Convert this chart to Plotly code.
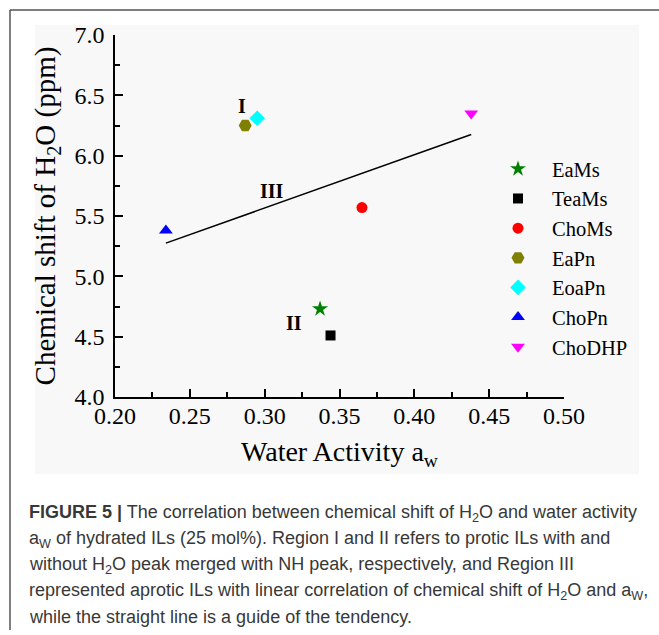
import plotly.graph_objects as go

# ---------------- data ----------------
names = ["EaMs", "TeaMs", "ChoMs", "EaPn", "EoaPn", "ChoPn", "ChoDHP"]
water_activity = [0.337, 0.344, 0.365, 0.287, 0.295, 0.234, 0.438]
chem_shift = [4.73, 4.51, 5.57, 6.25, 6.31, 5.38, 6.35]
symbols = ["star", "square", "circle", "hexagon2", "diamond", "triangle-up", "triangle-down"]
colors = ["#008000", "#000000", "#ff0000", "#808000", "#00ffff", "#0000ff", "#ff00ff"]
sizes = [12, 10, 11, 13, 12, 12, 12]

guide_x = [0.234, 0.438]
guide_y = [5.275, 6.175]

region_labels = ["I", "III", "II"]
region_x = [0.285, 0.305, 0.3195]
region_y = [6.41, 5.71, 4.615]

x_ticks = [0.20, 0.25, 0.30, 0.35, 0.40, 0.45, 0.50]
y_ticks = [4.0, 4.5, 5.0, 5.5, 6.0, 6.5, 7.0]

caption_lines = [
    "<b>FIGURE 5 |</b> The correlation between chemical shift of H<sub>2</sub>O and water activity",
    "a<sub>W</sub> of hydrated ILs (25 mol%). Region I and II refers to protic ILs with and",
    "without H<sub>2</sub>O peak merged with NH peak, respectively, and Region III",
    "represented aprotic ILs with linear correlation of chemical shift of H<sub>2</sub>O and a<sub>W</sub>,",
    "while the straight line is a guide of the tendency.",
]

# ---------------- geometry (pixels) ----------------
W, H = 659, 635
L, R, T, B = 115, 564, 35, 397


def px(x):
    return (x - L) / (R - L)


def py(y):
    return (B - y) / (B - T)


SERIF = "Liberation Serif, Times New Roman, serif"
SANS = "Liberation Sans, Arial, sans-serif"

fig = go.Figure()

fig.add_trace(go.Scatter(
    x=guide_x, y=guide_y, mode="lines",
    line=dict(color="black", width=1.5), showlegend=False, hoverinfo="skip"))

for n, xv, yv, s, c, sz in zip(names, water_activity, chem_shift, symbols, colors, sizes):
    fig.add_trace(go.Scatter(
        x=[xv], y=[yv], mode="markers", name=n,
        marker=dict(symbol=s, color=c, size=sz, line=dict(width=0))))

for t, xv, yv in zip(region_labels, region_x, region_y):
    fig.add_annotation(x=xv, y=yv, text=f"<b>{t}</b>", showarrow=False,
                       font=dict(family=SERIF, size=20, color="black"))

caption_y = [513, 539, 565, 591, 617]
for line, yy in zip(caption_lines, caption_y):
    fig.add_annotation(xref="paper", yref="paper", x=px(27), y=py(yy),
                       xanchor="left", yanchor="middle", text=line, showarrow=False,
                       font=dict(family=SANS, size=18, color="#383838"))

# grey panel + frame
fig.add_shape(type="rect", xref="paper", yref="paper",
              x0=px(35), x1=px(639), y0=py(474), y1=py(25),
              fillcolor="#f8f8f8", line=dict(width=0), layer="below")
fig.add_shape(type="line", xref="paper", yref="paper",
              x0=px(10), x1=px(659), y0=py(10), y1=py(10),
              line=dict(color="#555555", width=1.5))
fig.add_shape(type="line", xref="paper", yref="paper",
              x0=px(10), x1=px(10), y0=py(10), y1=py(630),
              line=dict(color="#555555", width=1.5))

axis_common = dict(
    showline=True, linecolor="black", linewidth=1.5, mirror=False,
    ticks="inside", ticklen=8, tickwidth=1.5, tickcolor="black",
    showgrid=False, zeroline=False,
    tickfont=dict(family=SERIF, size=24, color="black"),
)

fig.update_xaxes(
    range=[0.20, 0.50], tickvals=x_ticks, ticktext=[f"{v:.2f}" for v in x_ticks],
    minor=dict(ticks="inside", ticklen=5, tickwidth=1.5, tickcolor="black", dtick=0.025, tick0=0.2),
    ticklabelstandoff=-4,
    title=dict(text="Water Activity a<sub>w</sub>", font=dict(family=SERIF, size=28, color="black"), standoff=14),
    **axis_common)
fig.update_yaxes(
    range=[4.0, 7.0], tickvals=y_ticks, ticktext=[f"{v:.1f}" for v in y_ticks],
    minor=dict(ticks="inside", ticklen=5, tickwidth=1.5, tickcolor="black", dtick=0.25, tick0=4.0),
    ticklabelstandoff=4,
    title=dict(text="Chemical shift of H<sub>2</sub>O (ppm)", font=dict(family=SERIF, size=29, color="black"), standoff=10),
    **axis_common)

fig.update_layout(
    width=W, height=H,
    margin=dict(l=L, r=W - R, t=T, b=H - B, autoexpand=False),
    paper_bgcolor="white", plot_bgcolor="rgba(0,0,0,0)",
    legend=dict(x=px(484), y=py(149), xanchor="left", yanchor="top",
                font=dict(family=SERIF, size=20.5, color="black"),
                bgcolor="rgba(0,0,0,0)", itemwidth=58, tracegroupgap=0),
    showlegend=True,
)

fig.write_html("out.html", config={"displayModeBar": False},
               post_script="document.body.style.margin='0px';")
